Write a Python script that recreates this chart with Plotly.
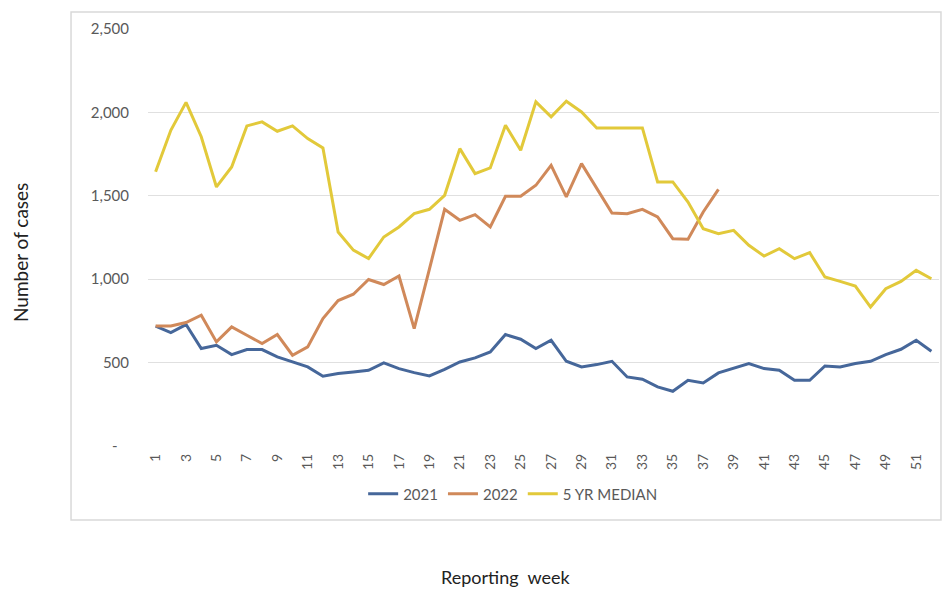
import plotly.graph_objects as go

weeks = list(range(1, 53))

cases_2021 = [719, 680, 728, 584, 604, 548, 578, 578, 534, 504, 474, 418, 434,
              444, 454, 498, 464, 440, 420, 460, 504, 528, 564, 668, 640, 584,
              634, 508, 474, 488, 508, 414, 400, 354, 328, 394, 378, 438, 464,
              494, 464, 454, 394, 394, 480, 474, 494, 508, 548, 580, 634, 568]

cases_2022 = [719, 719, 740, 784, 624, 714, 664, 614, 668, 544, 594, 764, 872,
              910, 998, 968, 1019, 704, 1061, 1419, 1353, 1387, 1313, 1497, 1497,
              1563, 1683, 1493, 1693, 1543, 1397, 1393, 1419, 1373, 1243, 1239,
              1403, 1539]

median_5yr = [1644, 1893, 2060, 1854, 1553, 1673, 1919, 1943, 1887, 1919, 1843,
              1787, 1283, 1174, 1124, 1253, 1313, 1393, 1419, 1503, 1783, 1633,
              1667, 1923, 1773, 2063, 1973, 2067, 2003, 1907, 1907, 1907, 1907,
              1583, 1583, 1463, 1303, 1273, 1293, 1203, 1139, 1183, 1123, 1159,
              1013, 987, 959, 833, 943, 987, 1053, 1003]

series_names = ["2021", "2022", "5 YR MEDIAN"]
series_colors = ["#46679a", "#d0895a", "#e2c93a"]

y_tickvals = [0, 500, 1000, 1500, 2000, 2500]
y_ticktext = ["-\u00a0\u00a0\u00a0", "500", "1,000", "1,500", "2,000", "2,500"]
x_tickvals = list(range(1, 53, 2))
x_ticktext = [str(w) for w in x_tickvals]

FONT = "Lato, 'Open Sans', sans-serif"

fig = go.Figure()
for name, data, color in zip(series_names, [cases_2021, cases_2022, median_5yr], series_colors):
    fig.add_trace(go.Scatter(
        x=weeks[:len(data)], y=data, name=name, mode="lines",
        line=dict(color=color, width=3),
    ))

fig.update_layout(
    width=942, height=589,
    margin=dict(l=148, r=3, t=29, b=143),
    paper_bgcolor="white", plot_bgcolor="white",
    font=dict(family=FONT, size=14, color="#595959"),
    showlegend=True,
    legend=dict(orientation="h", x=0.461, xanchor="center", y=-0.115, yanchor="middle",
                font=dict(size=15, color="#595959"), bgcolor="rgba(0,0,0,0)",
                itemwidth=30, tracegroupgap=0),
    xaxis=dict(range=[0.5, 52.5], tickvals=x_tickvals, ticktext=x_ticktext,
               tickangle=-90, showgrid=False, zeroline=False, showline=False,
               ticks="", ticklabelstandoff=4, tickfont=dict(size=14, color="#595959")),
    yaxis=dict(range=[0, 2500], tickvals=y_tickvals, ticktext=y_ticktext,
               showgrid=True, gridcolor="#e0e0e0", gridwidth=1, zeroline=False,
               showline=False, ticks="", ticklabelstandoff=18,
               tickfont=dict(size=15, color="#595959")),
    shapes=[dict(type="rect", xref="paper", yref="paper",
                 x0=-0.0973, x1=1.0025, y0=-0.1775, y1=1.0408,
                 line=dict(color="#d9d9d9", width=1.5), fillcolor="rgba(0,0,0,0)",
                 layer="below")],
    annotations=[
        dict(text="Number of cases", xref="paper", yref="paper",
             x=(20 - 148) / 791, y=(446 - 253) / 417, textangle=-90,
             showarrow=False, xanchor="center", yanchor="middle",
             font=dict(size=19, color="#222222", family=FONT)),
        dict(text="Reporting  week", xref="paper", yref="paper",
             x=(505 - 148) / 791, y=(446 - 577) / 417,
             showarrow=False, xanchor="center", yanchor="middle",
             font=dict(size=18, color="#222222", family=FONT)),
    ],
)

fig.write_html("out.html")
